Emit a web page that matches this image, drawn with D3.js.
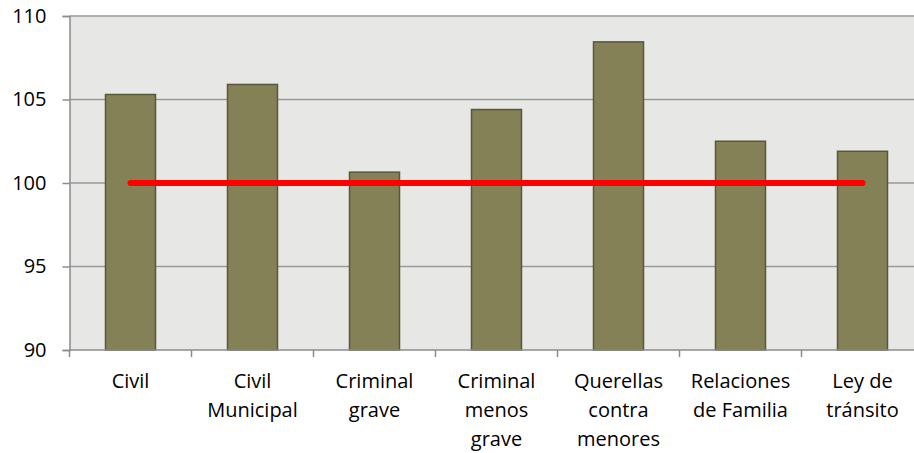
<!DOCTYPE html>
<html>
<head>
<meta charset="utf-8">
<script src="https://cdn.jsdelivr.net/npm/d3@7"></script>
<style>
  html, body { margin: 0; padding: 0; background: #ffffff; overflow: hidden; }
  svg { display: block; }
  text { font-family: "Open Sans", "Noto Sans", sans-serif; fill: #000; }
</style>
</head>
<body>
<svg id="chart" width="914" height="453"></svg>
<script>
const categories = [
  ["Civil"],
  ["Civil", "Municipal"],
  ["Criminal", "grave"],
  ["Criminal", "menos", "grave"],
  ["Querellas", "contra", "menores"],
  ["Relaciones", "de Familia"],
  ["Ley de", "tránsito"]
];
const barValues = [105.3, 105.9, 100.65, 104.4, 108.45, 102.5, 101.9];
const lineValues = [100, 100, 100, 100, 100, 100, 100];
const yTicks = [90, 95, 100, 105, 110];

(function () {
const svg = d3.select("#chart");
const mLeft = 69.5, mTop = 16, mBottom = 350, bandW = 122;
const plotW = bandW * categories.length;

const keys = categories.map((c, i) => i);
const x = d3.scaleBand().domain(keys).range([mLeft, mLeft + plotW]).paddingInner(0).paddingOuter(0);
const y = d3.scaleLinear().domain([90, 110]).range([mBottom, mTop]);

// plot background
svg.append("rect")
  .attr("x", mLeft).attr("y", mTop)
  .attr("width", plotW).attr("height", mBottom - mTop)
  .attr("fill", "#e7e7e5");

// gridlines
svg.append("g").selectAll("line").data(yTicks.filter(t => t !== 90)).join("line")
  .attr("x1", mLeft).attr("x2", mLeft + plotW)
  .attr("y1", d => y(d)).attr("y2", d => y(d))
  .attr("stroke", "#9a9a9a").attr("stroke-width", 1.5);

// bars
const barW = 50;
svg.append("g").selectAll("rect").data(barValues).join("rect")
  .attr("x", (d, i) => x(i) + x.bandwidth() / 2 - barW / 2)
  .attr("y", d => y(d))
  .attr("width", barW)
  .attr("height", d => y(90) - y(d))
  .attr("fill", "#848157")
  .attr("stroke", "#57573b")
  .attr("stroke-width", 1.5);

// red line
const line = d3.line().x((d, i) => x(i) + x.bandwidth() / 2).y(d => y(d));
svg.append("path").datum(lineValues)
  .attr("d", line)
  .attr("fill", "none")
  .attr("stroke", "#ff0000")
  .attr("stroke-width", 6)
  .attr("stroke-linecap", "round");

// y axis
const yAxis = d3.axisLeft(y).tickValues(yTicks).tickSize(7).tickPadding(16).tickFormat(d3.format("d"));
const gy = svg.append("g").attr("transform", `translate(${mLeft},0)`).call(yAxis);
gy.select(".domain").attr("stroke", "#8c8c8c").attr("stroke-width", 1.5);
gy.selectAll(".tick line").attr("stroke", "#8c8c8c").attr("stroke-width", 1.5);
gy.selectAll(".tick text").attr("font-size", 20).attr("font-family", '"Open Sans", sans-serif').attr("fill", "#000");

// x axis with boundary ticks
const boundaries = d3.range(categories.length + 1).map(i => mLeft + i * bandW);
const gx = svg.append("g");
gx.append("line").attr("x1", mLeft).attr("x2", mLeft + plotW)
  .attr("y1", mBottom).attr("y2", mBottom)
  .attr("stroke", "#8c8c8c").attr("stroke-width", 1.5);
gx.selectAll("line.tk").data(boundaries).join("line").attr("class", "tk")
  .attr("x1", d => d).attr("x2", d => d)
  .attr("y1", mBottom).attr("y2", mBottom + 7)
  .attr("stroke", "#8c8c8c").attr("stroke-width", 1.5);

const labels = svg.append("g").selectAll("text").data(categories).join("text")
  .attr("text-anchor", "middle")
  .attr("font-size", 20)
  .attr("x", (d, i) => x(i) + x.bandwidth() / 2)
  .attr("y", 388);
labels.selectAll("tspan").data(d => d).join("tspan")
  .attr("x", function() { return d3.select(this.parentNode).attr("x"); })
  .attr("dy", (d, j) => j === 0 ? 0 : 29)
  .text(d => d);
})();
</script>
</body>
</html>
